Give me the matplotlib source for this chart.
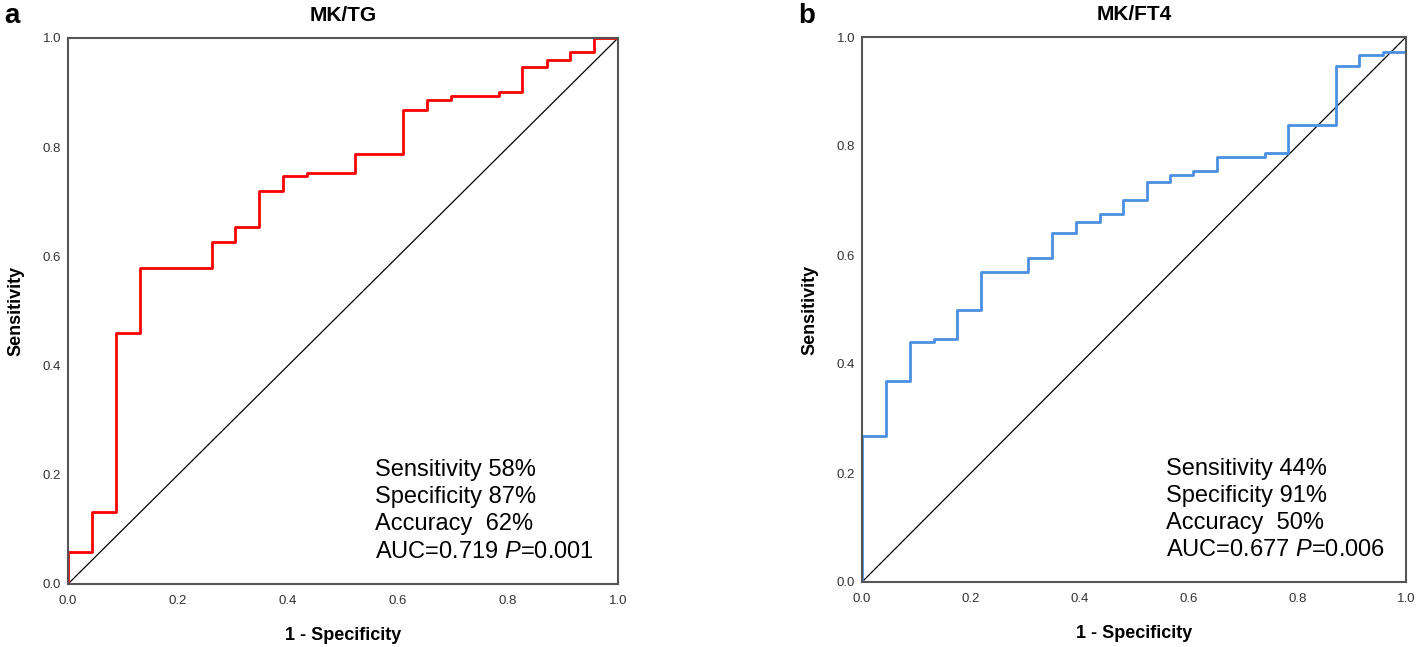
import matplotlib
matplotlib.use("Agg")
import matplotlib.pyplot as plt

plt.rcParams['font.family'] = ['Liberation Sans', 'DejaVu Sans']
plt.rcParams['mathtext.fontset'] = 'custom'
plt.rcParams['mathtext.rm'] = 'Liberation Sans'
plt.rcParams['mathtext.it'] = 'Liberation Sans:italic'

# ROC curve MK/TG (1 - specificity, sensitivity), step points
tg_fpr = [0, 0, 0.043, 0.087, 0.130, 0.261, 0.304, 0.348, 0.391, 0.435, 0.522,
          0.609, 0.652, 0.696, 0.783, 0.826, 0.870, 0.913, 0.957, 1.0]
tg_tpr = [0, 0.058, 0.132, 0.459, 0.579, 0.626, 0.653, 0.720, 0.747, 0.752, 0.787,
          0.868, 0.886, 0.894, 0.901, 0.947, 0.960, 0.974, 1.0, 1.0]

# ROC curve MK/FT4
ft4_fpr = [0, 0, 0.045, 0.088, 0.133, 0.175, 0.219, 0.306, 0.350, 0.393, 0.438,
           0.480, 0.524, 0.567, 0.609, 0.653, 0.741, 0.784, 0.871, 0.914, 0.958, 1.0]
ft4_tpr = [0, 0.268, 0.368, 0.441, 0.446, 0.500, 0.568, 0.594, 0.641, 0.660, 0.675,
           0.701, 0.734, 0.747, 0.754, 0.780, 0.787, 0.839, 0.947, 0.967, 0.973, 1.0]

titles = ['MK/TG', 'MK/FT4']
panel_labels = ['a', 'b']
stats_tg = ['Sensitivity 58%', 'Specificity 87%', 'Accuracy  62%', 'AUC=0.719 $\\it{P}$=0.001']
stats_ft4 = ['Sensitivity 44%', 'Specificity 91%', 'Accuracy  50%', 'AUC=0.677 $\\it{P}$=0.006']
ticks = [0.0, 0.2, 0.4, 0.6, 0.8, 1.0]

fig = plt.figure(figsize=(14.18, 6.47), dpi=100)
ax1 = fig.add_axes([68/1418, 63/647, 550/1418, 546/647])
ax2 = fig.add_axes([862/1418, 65/647, 544/1418, 545/647])

panels = [(ax1, tg_fpr, tg_tpr, 'red', stats_tg),
          (ax2, ft4_fpr, ft4_tpr, '#4A90E2', stats_ft4)]

for i, (ax, x, y, col, stats) in enumerate(panels):
    ax.plot([0, 1], [0, 1], color='black', lw=0.9)
    ax.step(x, y, where='post', color=col, lw=2.0)
    ax.set_xlim(0, 1)
    ax.set_ylim(0, 1)
    ax.set_xticks(ticks)
    ax.set_yticks(ticks)
    ax.set_xticklabels(['%.1f' % t for t in ticks])
    ax.set_yticklabels(['%.1f' % t for t in ticks])
    ax.tick_params(length=0, labelsize=9.5, colors='#333333')
    ax.tick_params(axis='x', pad=8)
    ax.tick_params(axis='y', pad=5)
    for s in ax.spines.values():
        s.set_color('#555555')
        s.set_linewidth(1.5)
    ax.set_title(titles[i], fontsize=15, fontweight='bold', pad=12)
    ax.set_xlabel('1 - Specificity', fontsize=13, fontweight='bold', labelpad=14)
    ax.set_ylabel('Sensitivity', fontsize=13, fontweight='bold', labelpad=13)
    for k, line in enumerate(stats):
        ax.text(0.558, 0.208 - k * 0.0495, line, transform=ax.transAxes,
                fontsize=17, va='center', ha='left')

fig.text(4/1418, 1 - 16/647, panel_labels[0], fontsize=20, fontweight='bold', va='center')
fig.text(798/1418, 1 - 16/647, panel_labels[1], fontsize=20, fontweight='bold', va='center')

plt.savefig('out.png', dpi=100)
